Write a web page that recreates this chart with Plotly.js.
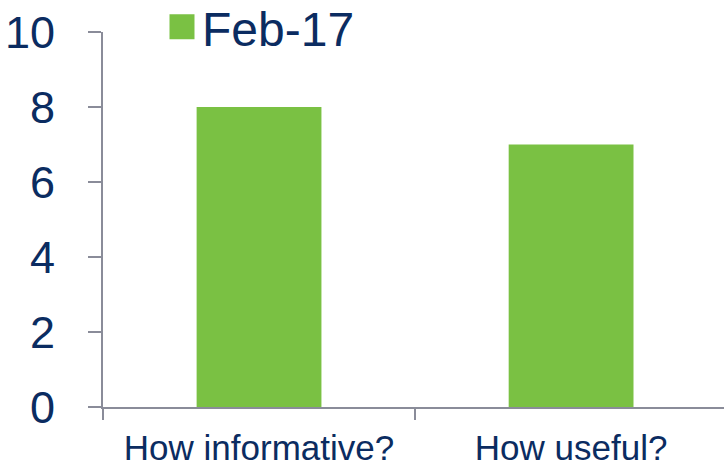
<!DOCTYPE html>
<html>
<head>
<meta charset="utf-8">
<script src="https://cdn.plot.ly/plotly-3.0.1.min.js"></script>
<style>html,body{margin:0;padding:0;background:#fff;}#chart{width:724px;height:470px;}</style>
</head>
<body>
<div id="chart"></div>
<script>
const categories = ["How informative?", "How useful?"];
const seriesName = "Feb-17";
const values = [8, 7];
const yTickValues = [0, 2, 4, 6, 8, 10];
const yTickLabels = ["0", "2", "4", "6", "8", "10"];

const navy = "#0B2C61";
const axisGray = "#8A8C99";
const green = "#7AC143";

const trace = {
  type: "bar",
  x: categories,
  y: values,
  name: seriesName,
  marker: {color: green},
  hoverinfo: "skip"
};

const layout = {
  width: 724,
  height: 470,
  margin: {l: 103, r: 0, t: 32, b: 63, pad: 0, autoexpand: false},
  paper_bgcolor: "#ffffff",
  plot_bgcolor: "#ffffff",
  font: {family: "'Liberation Sans', Arial, sans-serif", color: navy},
  bargap: 0.6,
  showlegend: true,
  legend: {
    orientation: "h",
    x: 0.095, xanchor: "left",
    y: 1.013, yanchor: "middle",
    font: {size: 48, color: navy},
    bgcolor: "rgba(0,0,0,0)",
    itemclick: false, itemdoubleclick: false
  },
  xaxis: {
    type: "category",
    range: [-0.5, 1.49],
    showline: true, linecolor: axisGray, linewidth: 2,
    ticks: "outside", tickson: "boundaries", ticklen: 11, tickwidth: 2, tickcolor: axisGray,
    tickfont: {size: 35, color: navy},
    ticklabelstandoff: 9,
    automargin: false,
    showgrid: false, zeroline: false, fixedrange: true
  },
  yaxis: {
    range: [0, 10],
    tickvals: yTickValues,
    ticktext: yTickLabels,
    showline: true, linecolor: axisGray, linewidth: 2,
    ticks: "outside", ticklen: 13, tickwidth: 2, tickcolor: axisGray,
    tickfont: {size: 45, color: navy},
    ticklabelstandoff: 24,
    automargin: false,
    showgrid: false, zeroline: false, fixedrange: true
  }
};

Plotly.newPlot("chart", [trace], layout, {displayModeBar: false, staticPlot: true}).then(function () {
  document.querySelectorAll("#chart path.legendbar, #chart .legendpoints path").forEach(function (p) {
    p.setAttribute("d", "M12.5,12.5H-12.5V-12.5H12.5Z");
  });
});
</script>
</body>
</html>
